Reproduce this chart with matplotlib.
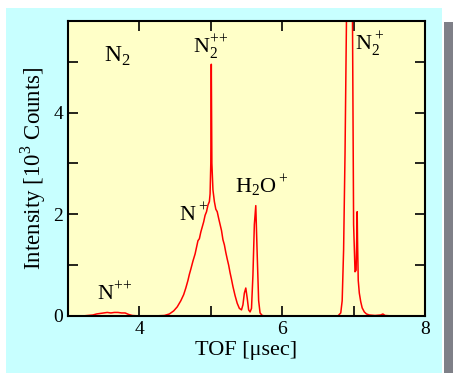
import matplotlib
matplotlib.use('Agg')
import matplotlib.pyplot as plt
from matplotlib.patches import Rectangle
from matplotlib.ticker import MultipleLocator

plt.rcParams['font.family'] = ['Liberation Serif', 'DejaVu Serif']
plt.rcParams['mathtext.fontset'] = 'custom'
plt.rcParams['mathtext.rm'] = 'Liberation Serif'

# TOF spectrum (usec, 10^3 counts)
tof = [3.00, 3.20, 3.35, 3.40, 3.45, 3.50, 3.55, 3.60, 3.65, 3.70, 3.75, 3.80, 3.85, 3.90,
       4.00, 4.20, 4.35, 4.42, 4.48, 4.53, 4.58, 4.62, 4.65, 4.68, 4.70, 4.72, 4.75,
       4.78, 4.80, 4.82, 4.84, 4.86, 4.88, 4.90, 4.92, 4.94, 4.96, 4.98, 4.99, 5.00,
       5.007, 5.015, 5.03, 5.05, 5.07, 5.09, 5.11, 5.13, 5.15, 5.17, 5.19, 5.21,
       5.23, 5.25, 5.27, 5.29, 5.31, 5.34, 5.37, 5.40, 5.43, 5.45, 5.47, 5.49, 5.51,
       5.53, 5.55, 5.57, 5.59, 5.61, 5.63, 5.65, 5.67, 5.69, 5.72, 5.76, 5.90,
       6.20, 6.50, 6.78, 6.82, 6.84, 6.86, 6.88, 6.90, 6.94, 6.98, 7.00, 7.02,
       7.035, 7.045, 7.05, 7.055, 7.065, 7.08, 7.10, 7.12, 7.15, 7.18, 7.22,
       7.30, 7.38, 7.41, 7.44, 7.55, 7.80, 8.00]
counts = [0.00, 0.00, 0.02, 0.04, 0.05, 0.06, 0.07, 0.06, 0.07, 0.07, 0.06, 0.06, 0.03, 0.01,
          0.00, 0.00, 0.01, 0.04, 0.10, 0.18, 0.30, 0.42, 0.55, 0.70, 0.82, 0.92, 1.08,
          1.22, 1.35, 1.48, 1.52, 1.65, 1.75, 1.85, 1.98, 2.05, 2.18, 2.25, 2.40, 3.00,
          4.95, 3.00, 2.48, 2.25, 2.10, 2.05, 1.92, 1.80, 1.68, 1.50, 1.40, 1.25,
          1.12, 1.00, 0.85, 0.72, 0.58, 0.40, 0.25, 0.15, 0.12, 0.22, 0.45, 0.55, 0.35,
          0.12, 0.08, 0.15, 0.80, 1.80, 2.17, 1.20, 0.30, 0.06, 0.01, 0.00, 0.00,
          0.00, 0.00, 0.00, 0.06, 0.30, 1.30, 3.20, 5.80, 12.0, 7.00, 1.80, 0.87,
          0.90, 1.60, 2.05, 1.50, 0.70, 0.45, 0.28, 0.16, 0.08, 0.04, 0.02,
          0.01, 0.02, 0.04, 0.01, 0.00, 0.00, 0.00]

fig = plt.figure(figsize=(4.53, 3.73), dpi=100, facecolor='white')
fig.patches.append(Rectangle((6 / 453, 0), 435.5 / 453, 365 / 373, transform=fig.transFigure,
                             facecolor='#c8ffff', edgecolor='none', zorder=-10))
fig.patches.append(Rectangle((443.5 / 453, 0), 9.5 / 453, 351 / 373, transform=fig.transFigure,
                             facecolor='#7f8088', edgecolor='none', zorder=-10))

ax = fig.add_axes([68 / 453, 57 / 373, 357 / 453, 295 / 373])
ax.set_zorder(1)
ax.set_facecolor('#ffffc8')
ax.plot(tof, counts, color='#ff0000', lw=1.1)

ax.set_xlim(3, 8)
ax.set_ylim(0, 5.8)
ax.xaxis.set_major_locator(MultipleLocator(2))
ax.xaxis.set_minor_locator(MultipleLocator(1))
ax.yaxis.set_major_locator(MultipleLocator(2))
ax.yaxis.set_minor_locator(MultipleLocator(1))
ax.tick_params(which='both', direction='in', top=True, right=True, width=1.2, labelsize=14)
ax.tick_params(which='major', length=7)
ax.tick_params(which='minor', length=7)
for s in ax.spines.values():
    s.set_linewidth(1.5)

ax.set_xlabel('TOF [μsec]', fontsize=16, labelpad=2)
ax.set_ylabel(r'Intensity [10$^3$ Counts]', fontsize=16.5, labelpad=4)

ax.text(3.5, 5.1, r'N$_2$', fontsize=17, ha='left', va='center')
ax.text(5.0, 5.3, r'N$_2^{+\!+}$', fontsize=16, ha='center', va='center')
ax.text(4.76, 2.0, r'N$^+$', fontsize=16, ha='center', va='center')
ax.text(5.72, 2.55, r'H$_2$O$^+$', fontsize=16, ha='center', va='center')
ax.text(7.23, 5.35, r'N$_2^+$', fontsize=16, ha='center', va='center')
ax.text(3.66, 0.45, r'N$^{+\!+}$', fontsize=16, ha='center', va='center')

fig.savefig('out.png', dpi=100, facecolor=fig.get_facecolor())
